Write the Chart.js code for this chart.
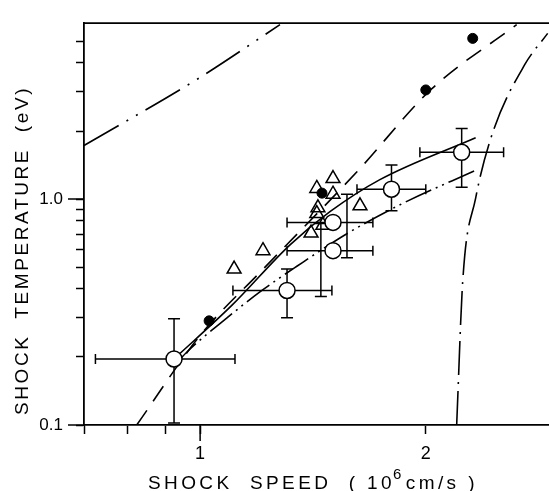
<!DOCTYPE html>
<html>
<head>
<meta charset="utf-8">
<script src="https://cdn.jsdelivr.net/npm/chart.js@4"></script>
<style>
  html, body { margin: 0; padding: 0; background: #fff; }
</style>
</head>
<body>
<canvas id="chart" width="549" height="491"></canvas>
<script>
// open circles (with error bars)
const circleX = [0.923, 1.306, 1.504, 1.504, 1.80, 2.233];
const circleT = [0.196, 0.394, 0.591, 0.788, 1.105, 1.61];
const circleXLow = [0.725, 1.106, 1.306, 1.306, 1.619, 1.964];
const circleXHigh = [1.113, 1.499, 1.70, 1.70, 2.0, 2.54];
const barX = [0.923, 1.306, 1.449, 1.570, 1.80, 2.233];
const circleTLow = [0.102, 0.298, 0.37, 0.55, 0.888, 1.127];
const circleTHigh = [0.295, 0.49, 0.78, 1.05, 1.415, 2.05];

// filled circles
const dotX = [1.028, 1.454, 2.0, 2.31];
const dotT = [0.289, 1.062, 3.04, 5.14];

// open triangles
const triX = [1.11, 1.213, 1.406, 1.431, 1.436, 1.458, 1.431, 1.504, 1.504, 1.634];
const triT = [0.49, 0.591, 0.707, 0.862, 0.914, 0.765, 1.114, 1.051, 1.232, 0.933];

// curves
const solidX = [0.923, 1.103, 1.318, 1.490, 1.737, 2.331];
const solidT = [0.196, 0.339, 0.627, 0.879, 1.219, 1.869];
const dashX = [0.823, 1.0, 1.213, 1.619, 2.036, 2.644];
const dashT = [0.1, 0.249, 0.489, 1.32, 3.07, 5.91];
const dotLineX = [0.929, 0.961, 1.086, 1.209, 1.346, 1.575, 1.858, 2.339];
const dotLineT = [0.187, 0.211, 0.298, 0.394, 0.504, 0.707, 0.952, 1.347];
const upperX = [0.70, 0.991, 1.278];
const upperT = [1.726, 3.39, 5.91];
const steepX = [2.199, 2.240, 2.331, 2.456, 2.710, 2.908];
const steepT = [0.1, 0.43, 1.01, 1.966, 3.93, 5.41];

// axes
const xTicks = [0.7, 0.8, 0.9, 1, 2];
const xTickLabels = ['', '', '', '1', '2'];
const yTicks = [0.1, 0.2, 0.3, 0.4, 0.5, 0.6, 0.7, 0.8, 0.9, 1, 2, 3, 4, 5];
const yTickLabels = ['0.1', '', '', '', '', '', '', '', '', '1.0', '', '', '', ''];
const xMajor = [1];
const yMajor = [0.1, 1];

const FONT = '"Liberation Sans Narrow", "Liberation Sans", sans-serif';

const pts = (xs, ys) => xs.map((v, i) => ({ x: v, y: ys[i] }));

function curve(xs, ys, dash) {
  return {
    data: pts(xs, ys),
    showLine: true,
    pointRadius: 0,
    borderColor: '#000',
    borderWidth: 1.6,
    borderDash: dash,
    cubicInterpolationMode: 'monotone',
    fill: false
  };
}

const extras = {
  id: 'extras',
  beforeDatasetsDraw(chart) {
    const { ctx, scales: { x, y } } = chart;
    ctx.save();
    ctx.strokeStyle = '#000';
    ctx.lineWidth = 1.5;
    ctx.beginPath();
    circleX.forEach((cx, i) => {
      const py = y.getPixelForValue(circleT[i]);
      const bx = x.getPixelForValue(barX[i]);
      const x0 = x.getPixelForValue(circleXLow[i]);
      const x1 = x.getPixelForValue(circleXHigh[i]);
      const y0 = y.getPixelForValue(circleTLow[i]);
      const y1 = y.getPixelForValue(circleTHigh[i]);
      ctx.moveTo(x0, py); ctx.lineTo(x1, py);
      ctx.moveTo(x0, py - 5); ctx.lineTo(x0, py + 5);
      ctx.moveTo(x1, py - 5); ctx.lineTo(x1, py + 5);
      ctx.moveTo(bx, y0); ctx.lineTo(bx, y1);
      ctx.moveTo(bx - 6, y0); ctx.lineTo(bx + 6, y0);
      ctx.moveTo(bx - 6, y1); ctx.lineTo(bx + 6, y1);
    });
    ctx.stroke();
    ctx.restore();
  },
  afterDraw(chart) {
    const { ctx, chartArea: ca, scales: { x, y } } = chart;
    ctx.save();
    ctx.strokeStyle = '#000';
    ctx.lineWidth = 1.8;
    // top frame line
    ctx.beginPath();
    ctx.moveTo(ca.left - 0.9, ca.top);
    ctx.lineTo(chart.width, ca.top);
    ctx.stroke();
    // longer major ticks
    ctx.lineWidth = 1.5;
    ctx.beginPath();
    yMajor.forEach(v => {
      const py = y.getPixelForValue(v);
      ctx.moveTo(ca.left - 16, py); ctx.lineTo(ca.left, py);
    });
    xMajor.forEach(v => {
      const px = x.getPixelForValue(v);
      ctx.moveTo(px, ca.bottom); ctx.lineTo(px, ca.bottom + 16);
    });
    ctx.stroke();

    // axis titles
    ctx.fillStyle = '#000';
    ctx.textBaseline = 'alphabetic';
    ctx.textAlign = 'left';

    ctx.save();
    ctx.font = '19px ' + FONT;
    ctx.letterSpacing = '2.6px';
    ctx.translate(28, ca.bottom - 10);
    ctx.rotate(-Math.PI / 2);
    ctx.fillText('SHOCK  TEMPERATURE  (eV)', 0, 0);
    ctx.restore();

    ctx.letterSpacing = '3.4px';
    const base = 489;
    let tx = ca.left + 64;
    const p1 = 'SHOCK  SPEED  ( 10';
    ctx.font = '19px ' + FONT;
    ctx.fillText(p1, tx, base);
    tx += ctx.measureText(p1).width - 2;
    ctx.font = '15px ' + FONT;
    ctx.fillText('6', tx, base - 10);
    tx += ctx.measureText('6').width + 1;
    ctx.font = '19px ' + FONT;
    ctx.fillText('cm/s )', tx, base);
    ctx.restore();
  }
};

new Chart(document.getElementById('chart'), {
  type: 'scatter',
  data: {
    datasets: [
      {
        data: pts(circleX, circleT),
        pointStyle: 'circle',
        pointRadius: 8,
        pointBackgroundColor: '#fff',
        pointBorderColor: '#000',
        pointBorderWidth: 1.5
      },
      {
        data: pts(dotX, dotT),
        pointStyle: 'circle',
        pointRadius: 5,
        pointBackgroundColor: '#000',
        pointBorderColor: '#000',
        pointBorderWidth: 1
      },
      {
        data: pts(triX, triT),
        pointStyle: 'triangle',
        pointRadius: 8,
        pointBackgroundColor: 'rgba(0,0,0,0)',
        pointBorderColor: '#000',
        pointBorderWidth: 1.5
      },
      curve(solidX, solidT, []),
      curve(dashX, dashT, [18, 11]),
      curve(dotLineX, dotLineT, [28, 5, 2, 5, 2, 5]),
      curve(upperX, upperT, [40, 9, 2, 9, 2, 9]),
      curve(steepX, steepT, [34, 7, 2, 7])
    ]
  },
  options: {
    responsive: false,
    animation: false,
    devicePixelRatio: 1,
    layout: { autoPadding: false, padding: { top: 13, right: 0, left: 0, bottom: 0 } },
    plugins: { legend: { display: false }, tooltip: { enabled: false } },
    scales: {
      x: {
        type: 'logarithmic',
        min: 0.7,
        max: 2.92,
        bounds: 'data',
        afterBuildTicks: s => { s.ticks = xTicks.map(v => ({ value: v })); },
        afterFit: s => { s.height = 66; },
        grid: { display: true, drawOnChartArea: false, tickLength: 9, tickWidth: 1.5, tickColor: '#000' },
        border: { display: true, color: '#000', width: 1.8 },
        ticks: {
          autoSkip: false,
          maxRotation: 0,
          padding: 9,
          color: '#000',
          font: { family: FONT, size: 18 },
          callback: (v, i) => xTickLabels[i]
        }
      },
      y: {
        type: 'logarithmic',
        min: 0.1,
        max: 6.0,
        bounds: 'data',
        afterBuildTicks: s => { s.ticks = yTicks.map(v => ({ value: v })); },
        afterFit: s => { s.width = 84; },
        grid: { display: true, drawOnChartArea: false, tickLength: 8, tickWidth: 1.5, tickColor: '#000' },
        border: { display: true, color: '#000', width: 1.8 },
        ticks: {
          autoSkip: false,
          padding: 13,
          color: '#000',
          font: { family: FONT, size: 17 },
          callback: (v, i) => yTickLabels[i]
        }
      }
    }
  },
  plugins: [extras]
});
</script>
</body>
</html>
